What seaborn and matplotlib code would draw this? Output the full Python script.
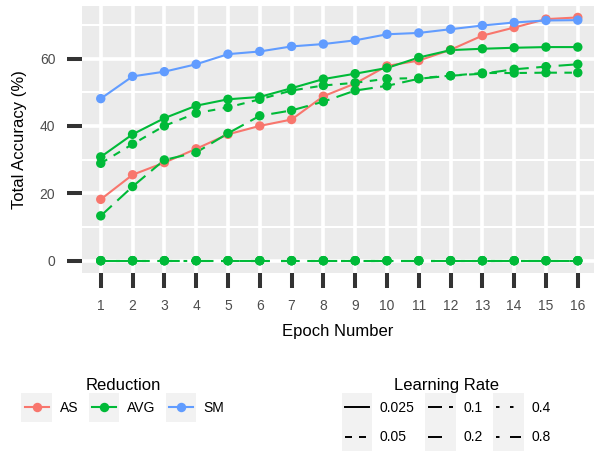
import matplotlib
matplotlib.use("Agg")
import matplotlib.pyplot as plt
import pandas as pd
import seaborn as sns
from matplotlib.legend_handler import HandlerBase
from matplotlib.patches import Rectangle
from matplotlib.lines import Line2D

# ---- data -------------------------------------------------------------
epochs = [1, 2, 3, 4, 5, 6, 7, 8, 9, 10, 11, 12, 13, 14, 15, 16]
reductions = ["AS", "AVG", "SM"]
learning_rates = ["0.025", "0.05", "0.1", "0.2", "0.4", "0.8"]

as_lr0025 = [18.2, 25.5, 29.1, 33.2, 37.5, 40.0, 41.9, 48.8,
             52.6, 57.8, 59.4, 62.6, 66.8, 69.2, 71.7, 72.2]
avg_lr0025 = [30.8, 37.5, 42.3, 46.0, 47.9, 48.6, 51.2, 53.9,
              55.5, 57.2, 60.3, 62.5, 62.9, 63.2, 63.4, 63.4]
avg_lr005 = [28.9, 34.6, 40.0, 43.8, 45.5, 47.9, 50.5, 52.0,
             52.8, 54.0, 54.2, 54.9, 55.7, 55.7, 55.8, 55.8]
avg_lr01 = [13.3, 22.0, 29.9, 32.1, 37.8, 43.0, 44.6, 47.2,
            50.5, 51.9, 54.0, 54.9, 55.5, 56.8, 57.6, 58.3]
avg_lr02 = [0, 0, 0, 0, 0, 0, 0, 0, 0, 0, 0, 0, 0, 0, 0, 0]
avg_lr04 = [0, 0, 0, 0, 0, 0, 0, 0, 0, 0, 0, 0, 0, 0, 0, 0]
avg_lr08 = [0, 0, 0, 0, 0, 0, 0, 0, 0, 0, 0, 0, 0, 0, 0, 0]
sm_lr0025 = [48.1, 54.7, 56.1, 58.3, 61.3, 62.1, 63.6, 64.3,
             65.4, 67.2, 67.6, 68.7, 69.8, 70.7, 71.3, 71.4]

runs = [
    ("AS", "0.025", as_lr0025),
    ("AVG", "0.025", avg_lr0025),
    ("AVG", "0.05", avg_lr005),
    ("AVG", "0.1", avg_lr01),
    ("AVG", "0.2", avg_lr02),
    ("AVG", "0.4", avg_lr04),
    ("AVG", "0.8", avg_lr08),
    ("SM", "0.025", sm_lr0025),
]
df = pd.concat(
    [pd.DataFrame({"Epoch": epochs, "Accuracy": acc,
                   "Reduction": red, "Learning Rate": lr})
     for red, lr, acc in runs],
    ignore_index=True,
)

# ---- styling ----------------------------------------------------------
palette = {"AS": "#F8766D", "AVG": "#00BA38", "SM": "#619CFF"}
dash_patterns = {
    "0.025": "",
    "0.05": (3.6, 3.6),
    "0.1": (7.2, 3.6),
    "0.2": (7.2, 7.2),
    "0.4": (1.8, 5.4),
    "0.8": (1.8, 5.4, 7.2, 5.4),
}
KEY_BG = "#F2F2F2"

plt.rcParams["font.family"] = ["Liberation Sans", "DejaVu Sans"]

fig = plt.figure(figsize=(5.94, 4.53), dpi=100)
ax = fig.add_axes([0.1375, 0.3978, 0.8625, 0.589])

sns.lineplot(data=df, x="Epoch", y="Accuracy", hue="Reduction",
             style="Learning Rate", hue_order=reductions,
             style_order=learning_rates, palette=palette,
             dashes=dash_patterns, estimator=None, errorbar=None,
             linewidth=1.5, legend=False, ax=ax)
sns.scatterplot(data=df, x="Epoch", y="Accuracy", hue="Reduction",
                hue_order=reductions, palette=palette, s=46,
                linewidth=0, legend=False, ax=ax, zorder=3)

# ---- axes / theme -----------------------------------------------------
ax.set_facecolor("#EBEBEB")
for sp in ax.spines.values():
    sp.set_visible(False)
ax.set_xlim(0.4, 16.51)
ax.set_ylim(-3.6, 75.6)
ax.set_xticks(epochs)
ax.set_xticklabels([str(e) for e in epochs])
ax.set_yticks([0, 20, 40, 60])
ax.set_yticks([10, 30, 50, 70], minor=True)
ax.grid(which="major", color="white", linewidth=2.6)
ax.grid(which="minor", axis="y", color="white", linewidth=1.5)
ax.set_axisbelow(True)
ax.tick_params(which="major", length=11, width=2.9, color="#333333",
               pad=8, labelsize=10, labelcolor="#4D4D4D")
ax.tick_params(which="minor", length=0)
ax.set_xlabel("Epoch Number", fontsize=12, labelpad=8)
ax.set_ylabel("Total Accuracy (%)", fontsize=12, labelpad=9)


# ---- legends ----------------------------------------------------------
class KeyHandler(HandlerBase):
    """Legend key drawn on a grey tile, line across, optional point."""

    def create_artists(self, legend, orig_handle, xdescent, ydescent,
                       width, height, fontsize, trans):
        x0 = -xdescent
        y0 = -ydescent
        yc = y0 + height / 2
        tile = Rectangle((x0, y0), width, height, facecolor=KEY_BG,
                         edgecolor="none", transform=trans)
        line = Line2D([x0 + 0.1 * width, x0 + 0.9 * width], [yc, yc])
        line.update_from(orig_handle)
        line.set_marker("None")
        line.set_transform(trans)
        artists = [tile, line]
        if orig_handle.get_marker() not in (None, "None", ""):
            pt = Line2D([x0 + width / 2], [yc])
            pt.update_from(orig_handle)
            pt.set_linestyle("None")
            pt.set_transform(trans)
            artists.append(pt)
        return artists


red_handles = [Line2D([], [], color=palette[r], linewidth=1.5, marker="o",
                      markersize=6.8, markeredgewidth=0) for r in reductions]
lr_handles = []
for lr in learning_rates:
    h = Line2D([], [], color="black", linewidth=1.4)
    if dash_patterns[lr]:
        h.set_dashes(dash_patterns[lr])
    lr_handles.append(h)

common = dict(frameon=False, ncol=3, fontsize=10, title_fontsize=12,
              handlelength=2.2, handleheight=2.84, handletextpad=0.55,
              columnspacing=0.75, labelspacing=0.0, borderpad=0.0,
              loc="upper center", handler_map={Line2D: KeyHandler()})
fig.legend(red_handles, reductions, title="Reduction",
           bbox_to_anchor=(123 / 594, 1 - 371 / 453), **common)
fig.legend(lr_handles, learning_rates, title="Learning Rate",
           bbox_to_anchor=(446 / 594, 1 - 371 / 453), **common)

fig.savefig("out.png", dpi=100)
